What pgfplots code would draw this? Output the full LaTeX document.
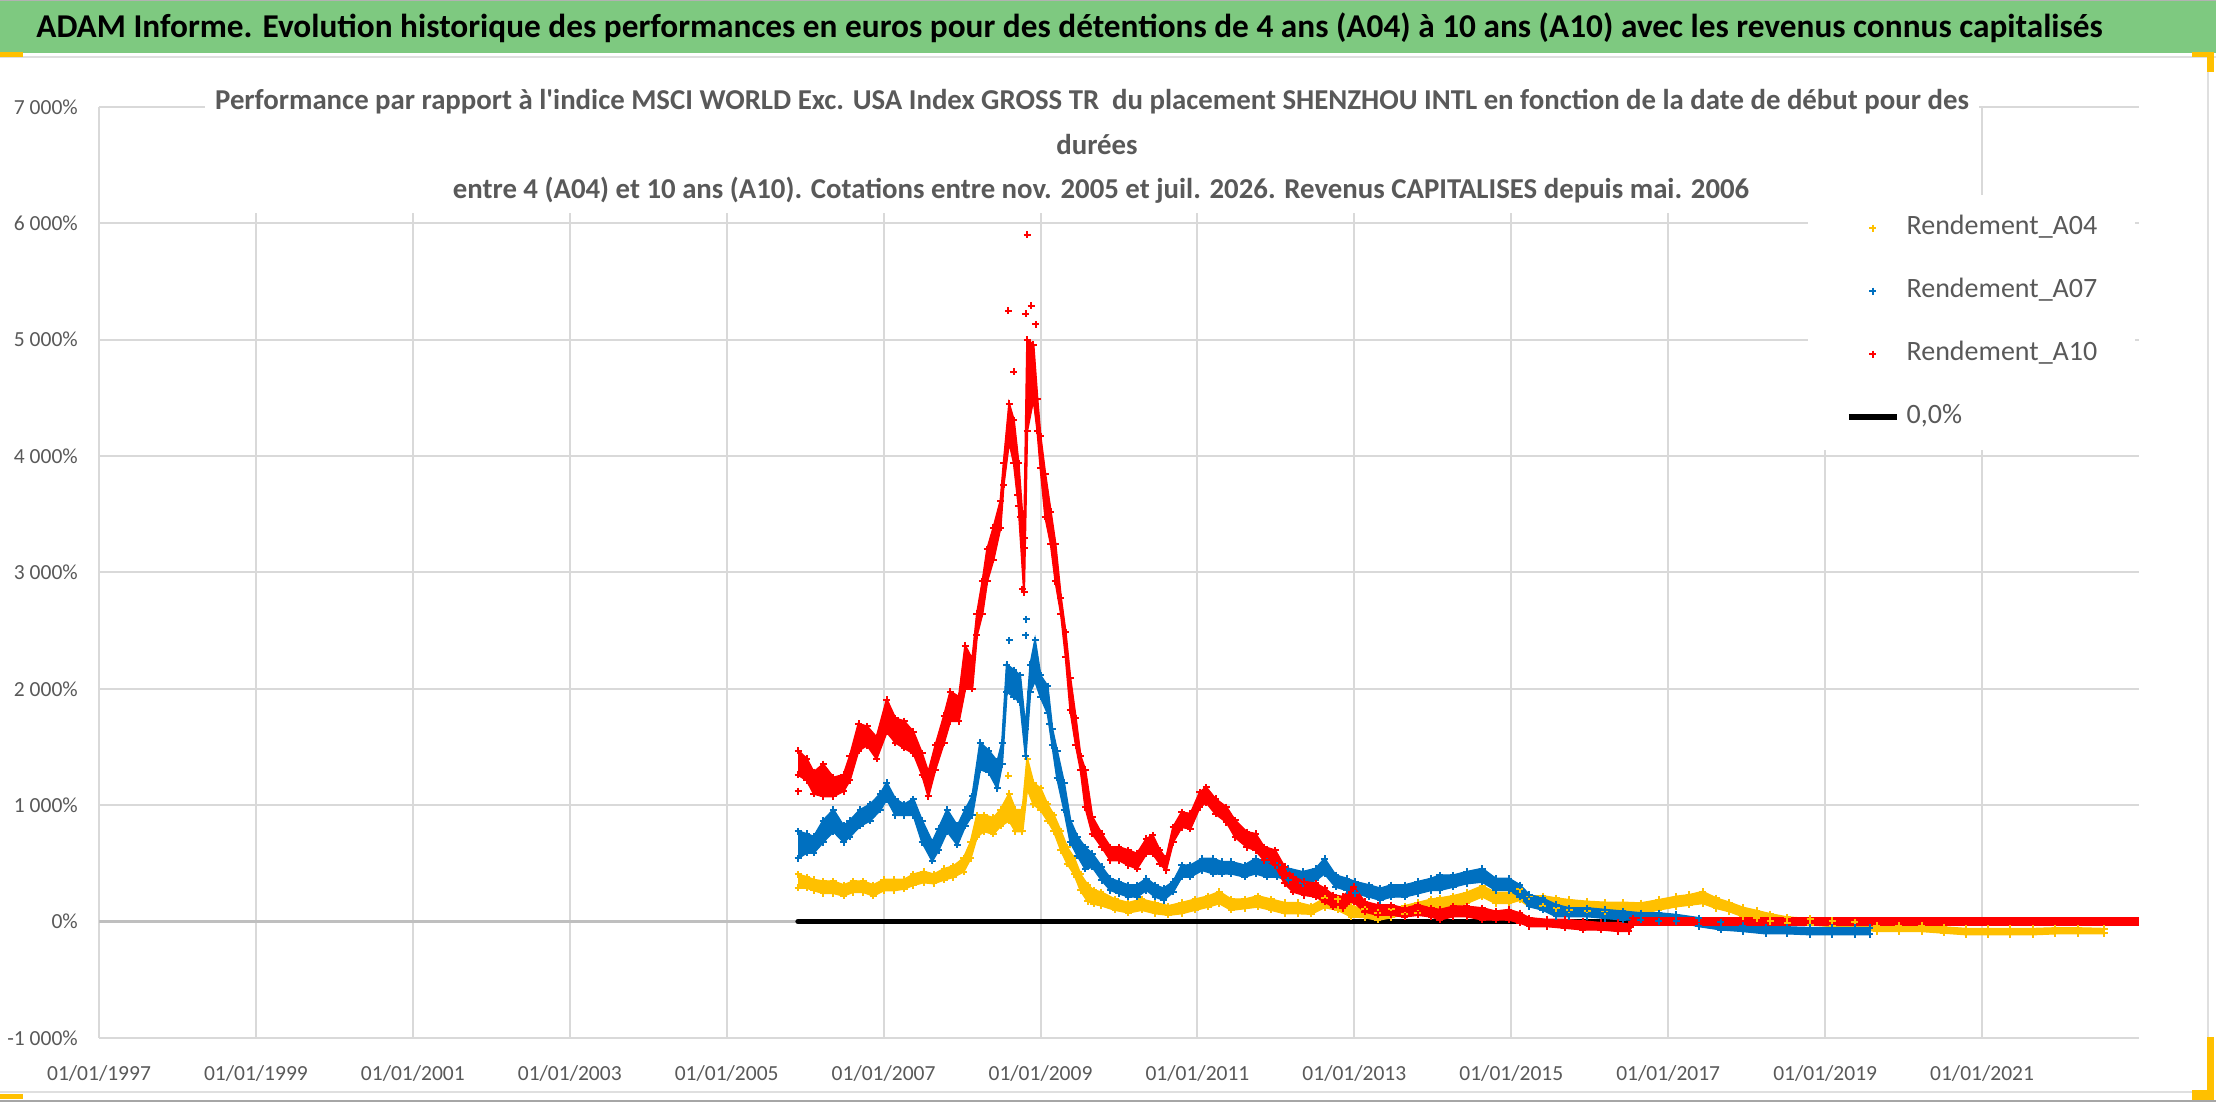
\documentclass[border=0pt]{standalone}
\usepackage{fontspec}
\setmainfont{Carlito}
\usepackage{pgfplots}
\usepackage{pgfplotstable}
\pgfplotsset{compat=1.18}

\definecolor{cA04}{HTML}{FFC000}
\definecolor{cA07}{HTML}{0070C0}
\definecolor{cA10}{HTML}{FF0000}
\definecolor{txt}{HTML}{595959}
\definecolor{grd}{HTML}{D9D9D9}
\definecolor{banner}{RGB}{126,201,128}

% Rendement_A04 : lower / upper edge of the dense cloud of daily points
\pgfplotstableread{
x lo hi
2005.91 291 406
2006.02 291 383
2006.11 268 360
2006.23 245 346
2006.36 245 346
2006.49 222 314
2006.61 254 346
2006.74 254 346
2006.87 222 314
2007.00 268 360
2007.13 268 360
2007.26 282 360
2007.38 314 406
2007.51 337 430
2007.64 328 406
2007.77 360 453
2007.89 383 476
2008.02 430 545
2008.11 545 684
2008.19 730 915
2008.28 776 915
2008.40 753 891
2008.49 822 961
2008.60 868 1099
2008.68 776 961
2008.77 776 961
2008.83 1145 1400
2008.91 1007 1192
2009.00 961 1145
2009.09 868 1007
2009.17 776 915
2009.26 614 776
2009.34 499 637
2009.43 406 545
2009.51 268 406
2009.60 176 314
2009.68 152 268
2009.77 139 254
2009.95 100 191
2010.12 77 162
2010.29 100 191
2010.46 71 162
2010.63 57 134
2010.80 71 162
2010.97 100 191
2011.14 128 219
2011.28 157 256
2011.43 100 191
2011.60 114 191
2011.77 128 219
2011.94 100 191
2012.11 71 162
2012.28 71 162
2012.45 66 134
2012.62 123 199
2012.79 100 191
2012.96 43 134
2013.13 37 105
2013.30 14 77
2013.47 37 105
2013.64 66 134
2013.81 71 162
2013.98 123 191
2014.09 102 201
2014.26 130 220
2014.43 158 249
2014.63 215 305
2014.80 158 249
2014.97 158 249
2015.11 186 277
2015.23 130 220
2015.40 130 220
2015.57 116 201
2015.74 102 186
2015.97 88 172
2016.19 88 164
2016.42 88 164
2016.65 73 158
2016.88 102 186
2017.10 130 215
2017.27 144 229
2017.44 158 257
2017.61 116 201
2017.78 88 164
2017.95 45 121
2018.13 31 93
2018.30 3 65
2018.52 -11 37
2018.81 -25 23
2019.09 -40 8
2019.38 -54 -6
2019.66 -82 -34
2019.94 -82 -34
2020.23 -82 -34
2020.51 -96 -48
2020.80 -110 -62
2021.08 -110 -62
2021.36 -110 -62
2021.65 -110 -62
2021.93 -102 -56
2022.22 -102 -56
2022.56 -102 -62
}\tA

% Rendement_A07
\pgfplotstableread{
x lo hi
2005.91 545 776
2006.02 591 753
2006.11 591 730
2006.23 684 868
2006.36 776 961
2006.49 684 822
2006.57 730 868
2006.70 822 961
2006.83 868 1007
2006.96 961 1099
2007.04 1053 1192
2007.15 915 1053
2007.26 915 1007
2007.38 915 1053
2007.49 684 868
2007.62 522 684
2007.70 614 799
2007.81 776 961
2007.94 660 822
2008.04 822 961
2008.13 915 1076
2008.23 1307 1538
2008.34 1284 1469
2008.45 1145 1376
2008.51 1353 1538
2008.57 1977 2208
2008.66 1931 2162
2008.74 1885 2115
2008.81 1423 1654
2008.87 1977 2208
2008.93 2069 2416
2009.00 1931 2115
2009.09 1792 2023
2009.15 1515 1654
2009.21 1238 1469
2009.30 961 1192
2009.38 684 868
2009.47 568 730
2009.57 453 637
2009.66 470 584
2009.78 356 470
2009.89 271 370
2010.00 242 342
2010.12 214 313
2010.23 214 313
2010.35 271 370
2010.46 214 313
2010.57 185 285
2010.69 256 342
2010.80 385 484
2010.91 385 484
2011.06 442 541
2011.20 413 541
2011.31 413 513
2011.43 413 513
2011.60 385 484
2011.74 413 541
2011.88 385 513
2012.02 385 484
2012.16 356 456
2012.34 328 427
2012.51 356 456
2012.62 413 541
2012.76 299 399
2012.90 271 370
2013.01 242 342
2013.19 214 313
2013.33 185 285
2013.47 214 313
2013.64 214 313
2013.81 242 342
2013.98 271 370
2014.09 271 398
2014.26 299 398
2014.43 328 427
2014.63 342 455
2014.80 271 370
2014.97 271 370
2015.11 215 314
2015.23 130 229
2015.40 102 201
2015.57 45 144
2015.74 45 116
2015.97 45 116
2016.19 31 102
2016.42 17 88
2016.65 17 73
2016.88 3 73
2017.10 3 59
2017.39 -40 31
2017.67 -68 -6
2017.95 -82 -34
2018.24 -102 -48
2018.52 -102 -48
2018.81 -110 -54
2019.09 -110 -54
2019.38 -110 -54
2019.57 -110 -54
}\tB

% Rendement_A10
\pgfplotstableread{
x lo hi
2005.91 1261 1469
2006.02 1215 1400
2006.11 1099 1284
2006.23 1076 1353
2006.36 1076 1238
2006.49 1122 1261
2006.57 1215 1423
2006.68 1469 1700
2006.79 1515 1677
2006.91 1400 1584
2007.04 1630 1908
2007.15 1538 1746
2007.26 1492 1723
2007.38 1446 1630
2007.49 1261 1446
2007.57 1076 1284
2007.66 1307 1515
2007.77 1538 1769
2007.85 1723 1977
2007.96 1723 1931
2008.04 2000 2370
2008.13 2000 2254
2008.19 2462 2647
2008.26 2647 2924
2008.32 2924 3201
2008.40 3109 3386
2008.49 3386 3617
2008.53 3755 3940
2008.60 4125 4448
2008.66 3940 4310
2008.72 3570 3940
2008.79 2831 3293
2008.83 4217 5002
2008.91 4494 4956
2008.96 4217 4494
2009.00 3894 4171
2009.06 3478 3848
2009.13 3247 3524
2009.19 2924 3247
2009.26 2647 2785
2009.32 2277 2485
2009.38 1815 2092
2009.45 1515 1746
2009.51 1307 1423
2009.57 984 1307
2009.66 755 900
2009.78 641 755
2009.89 527 641
2010.00 527 641
2010.12 484 613
2010.23 456 584
2010.35 584 712
2010.43 584 741
2010.52 499 613
2010.60 442 541
2010.69 684 812
2010.80 812 940
2010.91 798 926
2011.03 983 1111
2011.11 1026 1154
2011.23 926 1054
2011.37 855 983
2011.48 726 869
2011.63 641 769
2011.74 613 755
2011.85 527 641
2011.99 484 613
2012.11 328 470
2012.22 256 385
2012.36 228 342
2012.51 214 328
2012.62 171 285
2012.73 128 228
2012.85 114 214
2012.99 171 299
2013.13 85 171
2013.30 57 142
2013.47 57 142
2013.64 43 114
2013.81 57 142
2013.98 43 114
2014.09 17 102
2014.26 45 130
2014.43 45 130
2014.63 17 116
2014.80 17 88
2014.97 17 102
2015.11 -11 73
2015.23 -40 31
2015.45 -40 17
2015.68 -54 17
2015.91 -68 3
2016.14 -68 -11
2016.36 -82 -11
2016.50 -82 -25
2016.55 -25 31
}\tC

% isolated points of the scatter
\pgfplotstableread{
x y
2008.59 1252
2008.83 1400
}\oA
\pgfplotstableread{
x y
2008.60 2416
2008.81 2462
2008.82 2600
2009.12 1700
}\oB
\pgfplotstableread{
x y
2005.91 1122
2008.59 5247
2008.66 4725
2008.71 3663
2008.74 3478
2008.77 2855
2008.79 3210
2008.81 5224
2008.83 5903
2008.88 5290
2008.94 5132
}\oC

% closed outline of each cloud: upper edge forwards, lower edge backwards
\newcommand\mkband[2]{%
  \pgfplotstablesort[sort key=x, sort cmp=float <]{#2}{#1}%
  \pgfplotstablesort[sort key=x, sort cmp=float >]{\tmprev}{#1}%
  \pgfplotstablecreatecol[create col/copy=hi]{y}{#2}%
  \pgfplotstablecreatecol[create col/copy=lo]{y}{\tmprev}%
  \pgfplotstablevertcat{#2}{\tmprev}%
}
\mkband{\tA}{\pA}
\mkband{\tB}{\pB}
\mkband{\tC}{\pC}

\pgfplotsset{
  edge/.style={#1, line width=2pt, mark=+, mark size=3.5pt, mark options={solid, line width=2pt}, forget plot},
  pts/.style={#1, only marks, mark=+, mark size=3.5pt, mark options={line width=2pt}, forget plot},
  band/.style={fill=#1, draw=#1, line width=1pt, mark=none, forget plot},
}

\begin{document}
\begin{tikzpicture}[x=1pt,y=1pt]
\begin{axis}[
  at={(99pt,64pt)}, anchor=south west, scale only axis,
  width=2040pt, height=931pt,
  xmin=1997, xmax=2023, ymin=-1000, ymax=7000,
  xtick={1997,1999,2001,2003,2005,2007,2009,2011,2013,2015,2017,2019,2021},
  xticklabels={01/01/1997,01/01/1999,01/01/2001,01/01/2003,01/01/2005,01/01/2007,01/01/2009,01/01/2011,01/01/2013,01/01/2015,01/01/2017,01/01/2019,01/01/2021},
  ytick={-1000,0,1000,2000,3000,4000,5000,6000,7000},
  yticklabels={-1 000\%,0\%,1 000\%,2 000\%,3 000\%,4 000\%,5 000\%,6 000\%,7 000\%},
  grid=major, major grid style={draw=grd, line width=2pt},
  extra y ticks={0}, extra y tick labels={},
  extra y tick style={major grid style={draw=gray!50, line width=2.5pt}},
  axis line style={draw=none}, major tick length=0pt,
  tick label style={font=\fontsize{21.5}{24}\selectfont, text=txt},
  yticklabel style={anchor=east, inner sep=0pt, xshift=-21pt},
  xticklabel style={anchor=center, inner sep=0pt, yshift=-35pt},
  legend image code/.code={\draw[mark repeat=2,mark phase=2,#1] plot coordinates {(0pt,0pt) (24pt,0pt) (48pt,0pt)};},
  legend cell align=left,
  legend style={at={(rel axis cs:0.8377,0.9055)}, anchor=north west, draw=none, fill=white,
    inner xsep=38pt, inner ysep=20pt, row sep=37pt,
    font=\fontsize{28}{30}\selectfont,
    nodes={inner sep=0pt, text height=19pt, text depth=7pt, text=txt},
    /tikz/every odd column/.append style={column sep=7pt}},
]
% 0,0% reference line
\addplot[black, line width=5.5pt, line cap=round, forget plot] coordinates {(2005.91,0) (2023,0)};

% A04
\addplot[band=cA04] table[x=x, y=y] {\pA};
\addplot[edge=cA04] table[x=x, y=lo] {\tA};
\addplot[edge=cA04] table[x=x, y=hi] {\tA};
\addplot[pts=cA04] table[x=x, y=y] {\oA};

% A07
\addplot[band=cA07] table[x=x, y=y] {\pB};
\addplot[edge=cA07] table[x=x, y=lo] {\tB};
\addplot[edge=cA07] table[x=x, y=hi] {\tB};
\addplot[pts=cA07] table[x=x, y=y] {\oB};

% A10
\addplot[band=cA10] table[x=x, y=y] {\pC};
\addplot[edge=cA10] table[x=x, y=lo] {\tC};
\addplot[edge=cA10] table[x=x, y=hi] {\tC};
\addplot[pts=cA10] table[x=x, y=y] {\oC};
\addplot[cA10, line width=9pt, forget plot] coordinates {(2016.55,0) (2023,0)};

\addlegendimage{only marks, mark=+, cA04, mark size=3.5pt, mark options={line width=2pt}}
\addlegendentry{Rendement\_A04}
\addlegendimage{only marks, mark=+, cA07, mark size=3.5pt, mark options={line width=2pt}}
\addlegendentry{Rendement\_A07}
\addlegendimage{only marks, mark=+, cA10, mark size=3.5pt, mark options={line width=2pt}}
\addlegendentry{Rendement\_A10}
\addlegendimage{black, line width=5.5pt}
\addlegendentry{0,0\%}
\end{axis}

% chart title (white box over the plot area)
\fill[white] (205,889) rectangle (1979,1032);
\begin{scope}[every node/.style={anchor=base, inner sep=0pt, text=txt, font=\fontsize{28.8}{31}\selectfont\bfseries}]
\node at (1092,992) {Performance par rapport à l\textquotesingle indice MSCI WORLD Exc. USA Index GROSS TR\ \ du placement SHENZHOU INTL en fonction de la date de début pour des};
\node at (1097,947) {durées};
\node at (1101,903) {entre 4 (A04) et 10 ans (A10). Cotations entre nov. 2005 et juil. 2026. Revenus CAPITALISES depuis mai. 2006};
\end{scope}

% banner
\fill[banner] (0,1049) rectangle (2216,1102);
\draw[gray!60, line width=1.5pt] (0,1101.25) -- (2216,1101.25);
\draw[gray!25, line width=2pt] (0,1045) -- (2216,1045);
\node[anchor=base, inner sep=0pt, font=\fontsize{33.3}{38}\selectfont\bfseries, text=black] at (1069.5,1064.5) {ADAM Informe. Evolution historique des performances en euros pour des détentions de 4 ans (A04) à 10 ans (A10) avec les revenus connus capitalisés};

% chart frame and selection handles
\draw[gray!25, line width=2pt] (0,10) -- (2208,10) -- (2208,1045);
\draw[gray!70, line width=1.5pt] (0,0.75) -- (2216,0.75);
\fill[cA04] (0,1045) rectangle (23,1050);
\fill[cA04] (0,3) rectangle (23,8);
\fill[cA04] (2192,1045) rectangle (2214,1050);
\fill[cA04] (2207,1030) rectangle (2214,1050);
\fill[cA04] (2207,10) rectangle (2214,65);
\fill[cA04] (2192,2) rectangle (2214,12);
\pgfresetboundingbox
\path[use as bounding box] (0,0) rectangle (2216,1102);
\end{tikzpicture}
\end{document}
